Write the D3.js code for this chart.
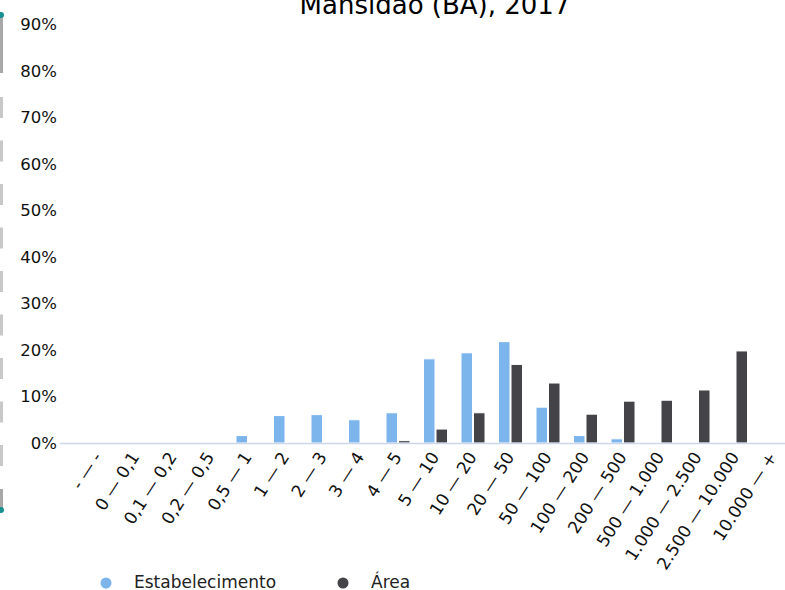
<!DOCTYPE html>
<html>
<head>
<meta charset="utf-8">
<script src="https://cdn.jsdelivr.net/npm/d3@7"></script>
<style>
  body { margin: 0; background: #fff; }
  svg { font-family: "DejaVu Sans", sans-serif; display: block; }
</style>
</head>
<body>
<svg id="chart"></svg>
<script>
const WIDTH = 785;
const HEIGHT = 590;

// faixas de área (ha)
const categories = [
  "- \u2014 -", "0 \u2014 0,1", "0,1 \u2014 0,2", "0,2 \u2014 0,5", "0,5 \u2014 1",
  "1 \u2014 2", "2 \u2014 3", "3 \u2014 4", "4 \u2014 5", "5 \u2014 10",
  "10 \u2014 20", "20 \u2014 50", "50 \u2014 100", "100 \u2014 200", "200 \u2014 500",
  "500 \u2014 1.000", "1.000 \u2014 2.500", "2.500 \u2014 10.000", "10.000 \u2014 +"
];
// percentuais
const estabelecimento = [0, 0, 0, 0, 1.6, 5.9, 6.1, 5.0, 6.5, 18.1, 19.4, 21.8, 7.7, 1.6, 0.9, 0.2, 0, 0, 0];
const area = [0, 0, 0, 0, 0, 0, 0.1, 0.15, 0.5, 3.0, 6.5, 16.9, 12.9, 6.2, 9.0, 9.2, 11.4, 19.8, 0];
const seriesNames = ["Estabelecimento", "\u00c1rea"];
const seriesColors = ["#7cb5ec", "#434348"];
const yTicks = [0, 10, 20, 30, 40, 50, 60, 70, 80, 90];
const title = "Mansid\u00e3o (BA), 2017";

let svg = d3.select("#chart")
  .attr("width", WIDTH)
  .attr("height", HEIGHT);

// scrollbar-ish thing on the left edge
let side = svg.append("g").attr("class", "sidebar");
side.append("rect")
  .attr("x", 0).attr("y", 15).attr("width", 3).attr("height", 58)
  .style("fill", "#a8a8a8");
side.append("rect")
  .attr("x", 0).attr("y", 489).attr("width", 3).attr("height", 21)
  .style("fill", "#a8a8a8");
side.append("line")
  .attr("x1", 1.5).attr("x2", 1.5).attr("y1", 97).attr("y2", 470)
  .style("stroke", "#c8c8c8")
  .style("stroke-width", 3)
  .style("stroke-dasharray", "21 22.5");
side.selectAll("circle")
  .data([15, 510])
  .enter().append("circle")
  .attr("cx", 1).attr("cy", d => d).attr("r", 3)
  .style("fill", "#17918f");

let x = d3.scaleBand()
  .domain(categories)
  .range([78.75, 791.25]);

let xInner = d3.scaleBand()
  .domain(seriesNames)
  .range([7.25, 31.25])
  .paddingInner(0.08);

let y = d3.scaleLinear()
  .domain([0, 90])
  .range([443, 24.5]);

// title
svg.append("text")
  .attr("x", 435)
  .attr("y", 14)
  .attr("text-anchor", "middle")
  .style("font-size", "26px")
  .style("fill", "#000")
  .text(title);

// y axis labels (no gridlines)
svg.append("g")
  .attr("class", "yLabels")
  .selectAll("text")
  .data(yTicks)
  .enter().append("text")
  .attr("x", 57)
  .attr("y", d => y(d))
  .attr("dy", "0.36em")
  .attr("text-anchor", "end")
  .style("font-size", "16.5px")
  .style("fill", "#111")
  .text(d => d + "%");

// bars
let data = [estabelecimento, area];
let groups = svg.append("g").attr("class", "bars")
  .selectAll("g")
  .data(seriesNames)
  .enter().append("g")
  .style("fill", (d, i) => seriesColors[i]);

groups.selectAll("rect")
  .data((s, i) => data[i].map((v, j) => ({ s: s, cat: categories[j], v: v })))
  .enter().append("rect")
  .filter(d => d.v > 0)
  .attr("x", d => x(d.cat) + xInner(d.s))
  .attr("y", d => y(d.v))
  .attr("width", xInner.bandwidth())
  .attr("height", d => y(0) - y(d.v))
  .style("stroke", "#fff")
  .style("stroke-width", 1);

// x axis line
svg.append("line")
  .attr("x1", 60).attr("x2", WIDTH)
  .attr("y1", 443.5).attr("y2", 443.5)
  .style("stroke", "#ccd6eb")
  .style("stroke-width", 1.5);

// rotated category labels
svg.append("g")
  .attr("class", "xLabels")
  .selectAll("text")
  .data(categories)
  .enter().append("text")
  .attr("text-anchor", "end")
  .attr("transform", d => "translate(" + (x(d) + x.bandwidth() / 2 + 5) + ",457)rotate(-57)")
  .style("font-size", "17px")
  .style("fill", "#111")
  .text(d => d);

// legend
let legend = svg.append("g").attr("class", "legend");
let legendX = [106, 343];
seriesNames.forEach((s, i) => {
  legend.append("circle")
    .attr("cx", legendX[i]).attr("cy", 583).attr("r", 5.5)
    .style("fill", seriesColors[i]);
  legend.append("text")
    .attr("x", legendX[i] + 28).attr("y", 588)
    .style("font-size", "17px")
    .style("fill", "#222")
    .text(s);
});
</script>
</body>
</html>
